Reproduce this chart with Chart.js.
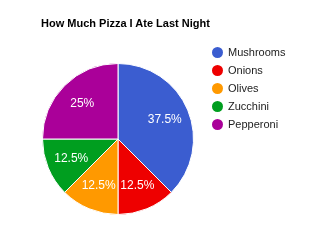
<!DOCTYPE html>
<html>
<head>
<meta charset="utf-8">
<script src="https://cdn.jsdelivr.net/npm/chart.js@4"></script>
<style>
  body { margin: 0; background: #fff; font-family: "Liberation Sans", Arial, sans-serif; }
  #wrap { position: relative; width: 322px; height: 243px; }
  #title { position: absolute; left: 41px; top: 17px; font-size: 11px; font-weight: bold; color: #000; white-space: nowrap; }
  #legend { position: absolute; left: 212px; top: 43px; font-size: 11px; color: #222; }
  .row { height: 18px; display: flex; align-items: center; }
  .dot { width: 11px; height: 11px; border-radius: 50%; margin-right: 5px; }
</style>
</head>
<body>
<div id="wrap">
  <canvas id="pie" width="322" height="243"></canvas>
  <div id="title">How Much Pizza I Ate Last Night</div>
  <div id="legend"></div>
</div>
<script>
// toppings and slices eaten
const toppings = ["Mushrooms", "Onions", "Olives", "Zucchini", "Pepperoni"];
const slices = [3, 1, 1, 1, 2];
const colors = ["#3b5dd0", "#ee0000", "#ff9900", "#009e1f", "#aa0099"];

// build the legend
const legend = document.getElementById("legend");
toppings.forEach((name, i) => {
  const row = document.createElement("div");
  row.className = "row";
  row.innerHTML = `<span class="dot" style="background:${colors[i]}"></span>${name}`;
  legend.appendChild(row);
});

// percentage labels inside the slices
const sliceLabels = {
  id: "sliceLabels",
  afterDatasetsDraw(chart) {
    const ctx = chart.ctx;
    const meta = chart.getDatasetMeta(0);
    const total = slices.reduce((a, b) => a + b, 0);
    ctx.save();
    ctx.fillStyle = "#fff";
    ctx.font = "12px 'Liberation Sans', Arial, sans-serif";
    ctx.textAlign = "center";
    ctx.textBaseline = "middle";
    meta.data.forEach((arc, i) => {
      const p = arc.getProps(["x", "y", "startAngle", "endAngle", "outerRadius"], true);
      const mid = (p.startAngle + p.endAngle) / 2;
      const r = p.outerRadius * 0.67;
      const pct = Math.round(slices[i] / total * 1000) / 10;
      ctx.fillText(pct + "%", p.x + Math.cos(mid) * r, p.y + Math.sin(mid) * r);
    });
    ctx.restore();
  }
};

new Chart("pie", {
  type: "pie",
  data: {
    labels: toppings,
    datasets: [{
      data: slices,
      backgroundColor: colors,
      borderColor: "#fff",
      borderWidth: 1
    }]
  },
  options: {
    responsive: false,
    animation: false,
    layout: { padding: { left: 42, top: 63, right: 128, bottom: 28 } },
    plugins: {
      legend: { display: false },
      tooltip: { enabled: false }
    }
  },
  plugins: [sliceLabels]
});
</script>
</body>
</html>
